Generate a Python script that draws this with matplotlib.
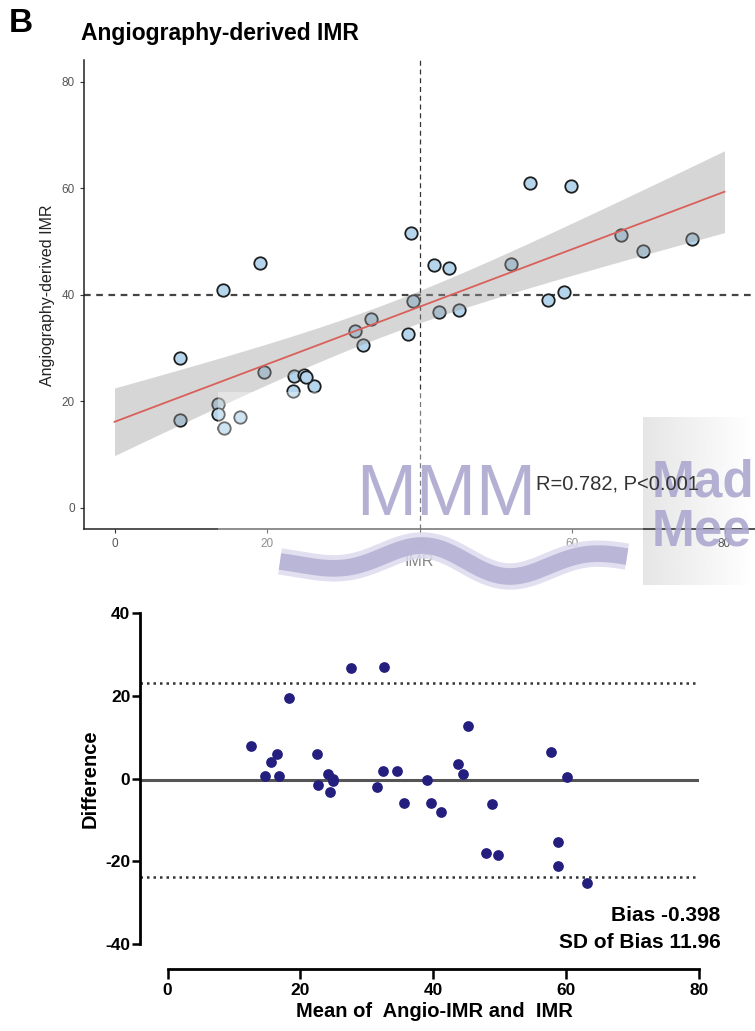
import matplotlib
matplotlib.use('Agg')
import matplotlib.pyplot as plt
import numpy as np

plt.rcParams['font.family'] = ['Liberation Sans', 'DejaVu Sans']

# IMR (wire) vs angiography-derived IMR
imr = [8.6, 8.6, 13.6, 13.6, 14.4, 16.5, 14.2, 19.1, 19.6, 23.6, 24.9, 23.4, 26.1, 25.1,
       31.5, 33.6, 32.6, 38.5, 39.1, 38.9, 41.9, 43.9, 42.6, 45.2,
       52.0, 54.5, 59.9, 56.9, 58.9, 66.4, 69.3, 75.7]
angio_imr = [28.1, 16.5, 19.5, 17.6, 15.1, 17.1, 40.9, 46.0, 25.5, 24.7, 24.9, 21.9, 22.8, 24.6,
             33.3, 35.5, 30.5, 32.6, 38.9, 51.6, 45.5, 45.0, 36.7, 37.2,
             45.8, 61.0, 60.4, 39.0, 40.5, 51.2, 48.2, 50.5]
ticks = [0, 20, 40, 60, 80]
ba_yticks = [-40, -20, 0, 20, 40]

r_text = 'R=0.782, P<0.001'
bias = -0.398
sd_bias = 11.96
t_crit = 2.04  # t(0.975, n-2)

W, H = 755, 1031
fig = plt.figure(figsize=(W / 100, H / 100), dpi=100)


def fx(x):
    return x / W


def fy(y):
    return 1 - y / H


# ---- panel B top: correlation ----
ax1 = fig.add_axes([fx(84), fy(529.3), fx(671), 469 / H])
ax1.patch.set_alpha(0)
x = np.array(imr)
y = np.array(angio_imr)
n = len(x)
slope, intercept = np.polyfit(x, y, 1)
xg = np.linspace(0, 80, 200)
yg = intercept + slope * xg
res = y - (intercept + slope * x)
s = np.sqrt(np.sum(res ** 2) / (n - 2))
sxx = np.sum((x - x.mean()) ** 2)
se = s * np.sqrt(1 / n + (xg - x.mean()) ** 2 / sxx)

ax1.axvline(40, color='#333333', lw=0.9, ls=(0, (4, 3)), zorder=1)
ax1.axhline(40, color='#444444', lw=1.6, ls=(0, (3, 2.5)), zorder=1)
ax1.scatter(x, y, s=80, facecolor='#b5d5ec', edgecolor='#1e1e1e', linewidth=1.3, zorder=2)
ax1.fill_between(xg, yg - t_crit * se, yg + t_crit * se, color='#999999', alpha=0.4,
                 linewidth=0, zorder=3)
ax1.plot(xg, yg, color='#d9605a', lw=1.3, zorder=4)

ax1.set_xlim(-4, 84)
ax1.set_ylim(-4, 84)
ax1.set_xticks(ticks)
ax1.set_yticks(ticks)
for side in ['top', 'right']:
    ax1.spines[side].set_visible(False)
for side in ['left', 'bottom']:
    ax1.spines[side].set_linewidth(1.1)
    ax1.spines[side].set_color('#222222')
ax1.tick_params(labelsize=8.5, labelcolor='#555555', color='#333333', length=3, width=0.8)
ax1.set_xlabel('IMR', fontsize=11.5, color='#444444', labelpad=3)
ax1.set_ylabel('Angiography-derived IMR', fontsize=11.5, color='#222222', labelpad=5)

fig.text(fx(9), fy(32), 'B', fontsize=24, fontweight='bold', va='baseline')
fig.text(fx(81), fy(40), 'Angiography-derived IMR', fontsize=16.5, fontweight='bold',
         va='baseline')

# ---- watermark ----
grad = np.linspace(0.9, 1.0, 64).reshape(1, -1)
gax = fig.add_axes([fx(643), fy(585), fx(112), (585 - 417) / H], zorder=-1)
gax.imshow(grad, cmap='gray', vmin=0, vmax=1, aspect='auto')
gax.axis('off')
fig.patches.append(plt.Rectangle((fx(218), fy(600)), fx(425), (600 - 392) / H,
                                 transform=fig.transFigure, facecolor='white',
                                 alpha=0.35, edgecolor='none', zorder=5))
fig.text(fx(356), fy(515), 'MMM', fontsize=52, color='#aca8cf', alpha=0.9, zorder=7)
fig.text(fx(652), fy(497), 'Mad', fontsize=37, fontweight='bold', color='#aca8cf',
         alpha=0.9, zorder=7)
fig.text(fx(652), fy(545), 'Mee', fontsize=37, fontweight='bold', color='#aca8cf',
         alpha=0.9, zorder=7)
wx = np.linspace(280, 627, 200)
wy = 561 + 17 * np.sin(2 * np.pi * (wx - 466) / 190) * np.exp(-((wx - 466) / 150) ** 2)
fig.lines.append(plt.Line2D(fx(wx), fy(wy), transform=fig.transFigure, lw=19,
                            color='#dddbee', alpha=0.85, solid_capstyle='butt', zorder=7))
fig.lines.append(plt.Line2D(fx(wx), fy(wy), transform=fig.transFigure, lw=12,
                            color='#b3afd4', alpha=0.85, solid_capstyle='butt', zorder=7))
fig.text(55.3, 3.4, r_text, transform=ax1.transData, fontsize=14.5, color='#333333', zorder=9)

# ---- panel B bottom: Bland-Altman ----
ax2 = fig.add_axes([fx(140), fy(969), fx(559), (969 - 613.3) / H])
mean_vals = (x + y) / 2
diff_vals = y - x
ax2.axhline(bias, color='#555555', lw=2.2, zorder=1)
ax2.axhline(bias + 1.96 * sd_bias, color='#333333', lw=1.8, ls=(0, (1, 1.6)), zorder=1)
ax2.axhline(bias - 1.96 * sd_bias, color='#333333', lw=1.8, ls=(0, (1, 1.6)), zorder=1)
ax2.scatter(mean_vals, diff_vals, s=45, color='#241f7e', zorder=3)

ax2.set_xlim(-4.14, 80)
ax2.set_ylim(-46, 40)
ax2.set_xticks(ticks)
ax2.set_xticklabels([str(t) for t in ticks])
ax2.set_yticks(ba_yticks)
ax2.set_yticklabels([str(t) for t in ba_yticks])
for side in ['top', 'right']:
    ax2.spines[side].set_visible(False)
ax2.spines['left'].set_bounds(-40, 40)
ax2.spines['bottom'].set_bounds(0, 80)
for side in ['left', 'bottom']:
    ax2.spines[side].set_linewidth(2)
ax2.tick_params(axis='y', labelsize=12.5, length=6, width=1.8, pad=1)
ax2.tick_params(axis='x', labelsize=12.5, length=7, width=1.8, pad=3)
for lab in ax2.get_xticklabels() + ax2.get_yticklabels():
    lab.set_fontweight('bold')
ax2.set_xlabel('Mean of  Angio-IMR and  IMR', fontsize=14.5, fontweight='bold', labelpad=3)
ax2.xaxis.label.set_x(0.527)
ax2.set_ylabel('Difference', fontsize=14.5, fontweight='bold', labelpad=4)
ax2.yaxis.label.set_y(0.534)
ax2.text(83.2, -34.4, 'Bias -0.398', fontsize=15, fontweight='bold', ha='right')
ax2.text(83.2, -40.9, 'SD of Bias 11.96', fontsize=15, fontweight='bold', ha='right')

fig.savefig('out.png', dpi=100)
